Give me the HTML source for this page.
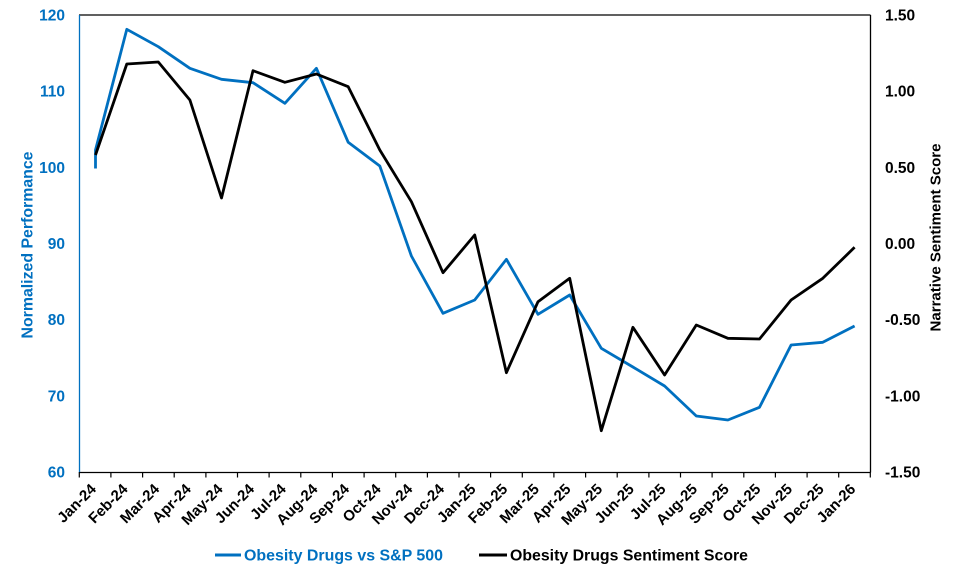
<!DOCTYPE html>
<html>
<head>
<meta charset="utf-8">
<style>
  html, body { margin: 0; padding: 0; background: #ffffff; }
  svg { display: block; }
  text { font-family: "Liberation Sans", Arial, sans-serif; font-weight: bold; }
</style>
</head>
<body>
<svg width="960" height="576" viewBox="0 0 960 576" xmlns="http://www.w3.org/2000/svg">
  <rect x="0" y="0" width="960" height="576" fill="#ffffff"/>

  <!-- plot border -->
  <line x1="79" y1="15" x2="870.5" y2="15" stroke="#000" stroke-width="1.3"/>
  <line x1="870.5" y1="15" x2="870.5" y2="472.5" stroke="#000" stroke-width="1.3"/>
  <line x1="79" y1="472.5" x2="870.5" y2="472.5" stroke="#000" stroke-width="1.3"/>
  <line x1="79.5" y1="15" x2="79.5" y2="472.5" stroke="#0070C0" stroke-width="1.3"/>

  <!-- x ticks -->
  <g stroke="#000" stroke-width="1.2">
    <line x1="79.3" y1="472" x2="79.3" y2="477.5"/>
    <line x1="110.9" y1="472" x2="110.9" y2="477.5"/>
    <line x1="142.6" y1="472" x2="142.6" y2="477.5"/>
    <line x1="174.2" y1="472" x2="174.2" y2="477.5"/>
    <line x1="205.9" y1="472" x2="205.9" y2="477.5"/>
    <line x1="237.5" y1="472" x2="237.5" y2="477.5"/>
    <line x1="269.1" y1="472" x2="269.1" y2="477.5"/>
    <line x1="300.8" y1="472" x2="300.8" y2="477.5"/>
    <line x1="332.4" y1="472" x2="332.4" y2="477.5"/>
    <line x1="364.1" y1="472" x2="364.1" y2="477.5"/>
    <line x1="395.7" y1="472" x2="395.7" y2="477.5"/>
    <line x1="427.4" y1="472" x2="427.4" y2="477.5"/>
    <line x1="459.0" y1="472" x2="459.0" y2="477.5"/>
    <line x1="490.6" y1="472" x2="490.6" y2="477.5"/>
    <line x1="522.3" y1="472" x2="522.3" y2="477.5"/>
    <line x1="553.9" y1="472" x2="553.9" y2="477.5"/>
    <line x1="585.6" y1="472" x2="585.6" y2="477.5"/>
    <line x1="617.2" y1="472" x2="617.2" y2="477.5"/>
    <line x1="648.9" y1="472" x2="648.9" y2="477.5"/>
    <line x1="680.5" y1="472" x2="680.5" y2="477.5"/>
    <line x1="712.1" y1="472" x2="712.1" y2="477.5"/>
    <line x1="743.8" y1="472" x2="743.8" y2="477.5"/>
    <line x1="775.4" y1="472" x2="775.4" y2="477.5"/>
    <line x1="807.1" y1="472" x2="807.1" y2="477.5"/>
    <line x1="838.7" y1="472" x2="838.7" y2="477.5"/>
    <line x1="870.3" y1="472" x2="870.3" y2="477.5"/>
  </g>

  <!-- left axis labels -->
  <g fill="#0070C0" font-size="15.5" text-anchor="end">
    <text x="65" y="20.5">120</text>
    <text x="65" y="96.7">110</text>
    <text x="65" y="172.9">100</text>
    <text x="65" y="249">90</text>
    <text x="65" y="325.2">80</text>
    <text x="65" y="401.4">70</text>
    <text x="65" y="477.5">60</text>
  </g>

  <!-- right axis labels -->
  <g fill="#000" font-size="15.5" text-anchor="start">
    <text x="885" y="20.5">1.50</text>
    <text x="885" y="96.7">1.00</text>
    <text x="885" y="172.9">0.50</text>
    <text x="885" y="249">0.00</text>
    <text x="885" y="325.2">-0.50</text>
    <text x="885" y="401.4">-1.00</text>
    <text x="885" y="477.5">-1.50</text>
  </g>

  <!-- axis titles -->
  <text transform="translate(32.5,245) rotate(-90)" text-anchor="middle" fill="#0070C0" font-size="16" textLength="187" lengthAdjust="spacingAndGlyphs">Normalized Performance</text>
  <text transform="translate(940.5,237.5) rotate(-90)" text-anchor="middle" fill="#000" font-size="15" textLength="188" lengthAdjust="spacingAndGlyphs">Narrative Sentiment Score</text>

  <!-- x labels -->
  <g fill="#000" font-size="15" text-anchor="end">
    <text transform="translate(97,490) rotate(-45)">Jan-24</text>
    <text transform="translate(128.7,490) rotate(-45)">Feb-24</text>
    <text transform="translate(160.3,490) rotate(-45)">Mar-24</text>
    <text transform="translate(191.9,490) rotate(-45)">Apr-24</text>
    <text transform="translate(223.6,490) rotate(-45)">May-24</text>
    <text transform="translate(255.2,490) rotate(-45)">Jun-24</text>
    <text transform="translate(286.9,490) rotate(-45)">Jul-24</text>
    <text transform="translate(318.5,490) rotate(-45)">Aug-24</text>
    <text transform="translate(350.2,490) rotate(-45)">Sep-24</text>
    <text transform="translate(381.8,490) rotate(-45)">Oct-24</text>
    <text transform="translate(413.4,490) rotate(-45)">Nov-24</text>
    <text transform="translate(445.1,490) rotate(-45)">Dec-24</text>
    <text transform="translate(476.7,490) rotate(-45)">Jan-25</text>
    <text transform="translate(508.4,490) rotate(-45)">Feb-25</text>
    <text transform="translate(540.0,490) rotate(-45)">Mar-25</text>
    <text transform="translate(571.7,490) rotate(-45)">Apr-25</text>
    <text transform="translate(603.3,490) rotate(-45)">May-25</text>
    <text transform="translate(634.9,490) rotate(-45)">Jun-25</text>
    <text transform="translate(666.6,490) rotate(-45)">Jul-25</text>
    <text transform="translate(698.2,490) rotate(-45)">Aug-25</text>
    <text transform="translate(729.9,490) rotate(-45)">Sep-25</text>
    <text transform="translate(761.5,490) rotate(-45)">Oct-25</text>
    <text transform="translate(793.2,490) rotate(-45)">Nov-25</text>
    <text transform="translate(824.8,490) rotate(-45)">Dec-25</text>
    <text transform="translate(856.4,490) rotate(-45)">Jan-26</text>
  </g>

  <!-- blue series -->
  <polyline fill="none" stroke="#0070C0" stroke-width="2.8" stroke-linejoin="round" stroke-linecap="butt"
    points="95.5,168.5 95.5,150 126.8,29.3 158.3,46.7 189.9,68.3 221.5,79.3 253,82.7 284.9,103.3 316.4,68.3 348.2,142.3 379.8,166 411.4,256 443,313.3 474.7,300 506.4,259.3 538,314.3 569.7,295 601.3,348.3 632.9,367 664.6,386 696.3,416 727.9,420 759.5,407.3 791.1,345 822.8,342.3 854.6,326"/>

  <!-- black series -->
  <polyline fill="none" stroke="#000" stroke-width="2.8" stroke-linejoin="round" stroke-linecap="butt"
    points="95.5,155 126.8,64 158.3,62 189.9,100 221.5,198 253,70.7 284.9,82.3 316.4,74 348.2,86.7 379.8,150 411.4,201.7 443,272.7 474.7,235 506.4,372.7 538,301.7 569.7,278.3 601.3,430.7 632.9,327.3 664.6,375 696.3,325 727.9,338.3 759.5,339 791.1,300 822.8,278.3 854.6,247.3"/>

  <!-- legend -->
  <line x1="215" y1="555" x2="241" y2="555" stroke="#0070C0" stroke-width="3"/>
  <text x="244" y="560.5" fill="#0070C0" font-size="16" textLength="199" lengthAdjust="spacingAndGlyphs">Obesity Drugs vs S&amp;P 500</text>
  <line x1="479" y1="555" x2="507" y2="555" stroke="#000" stroke-width="3"/>
  <text x="510" y="560.5" fill="#000" font-size="16" textLength="238" lengthAdjust="spacingAndGlyphs">Obesity Drugs Sentiment Score</text>
</svg>
</body>
</html>
